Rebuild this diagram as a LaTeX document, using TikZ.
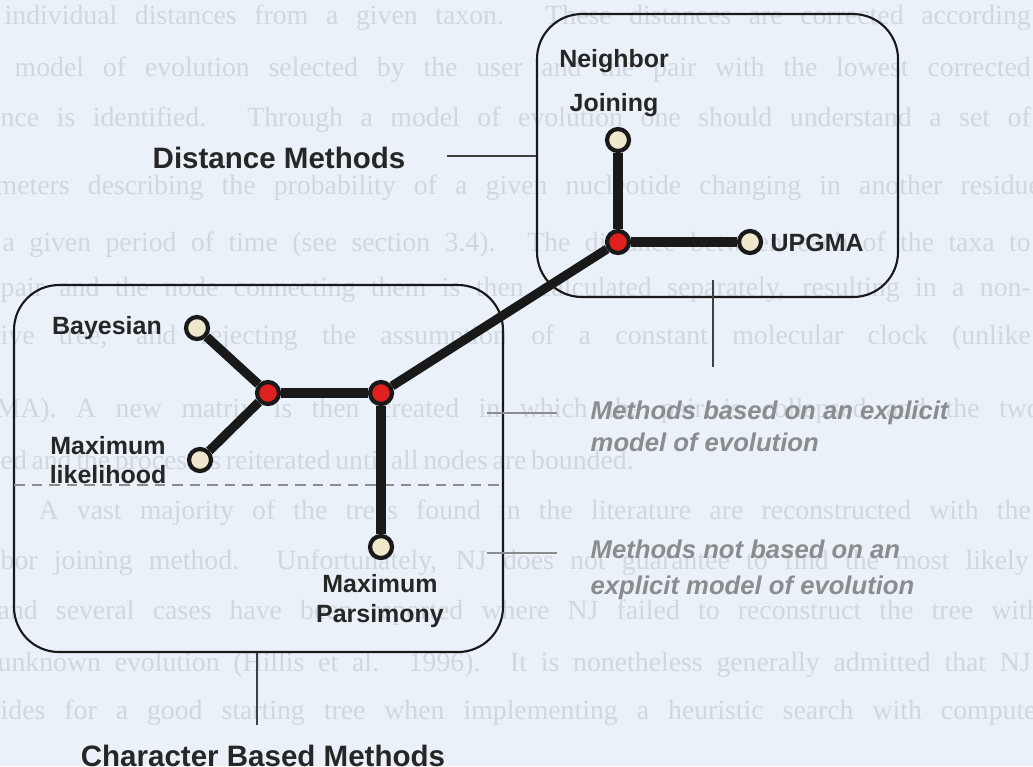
\documentclass[tikz,border=0pt]{standalone}
\usepackage{fontspec}
\setmainfont{Liberation Serif}
\setsansfont{Liberation Sans}
\definecolor{paper}{RGB}{234,241,249}
\definecolor{ghost}{RGB}{208,215,223}
\definecolor{leaf}{RGB}{240,232,204}
\definecolor{inner}{RGB}{222,32,30}
\definecolor{notegrey}{RGB}{138,140,142}
\begin{document}
\begin{tikzpicture}[x=0.1mm, y=-0.1mm,
		ghostline/.style={anchor=west, inner sep=0pt, text=ghost, font=\fontsize{7.9pt}{9pt}\selectfont},
		group/.style={draw=black!90, line width=0.6pt, rounded corners=4.5mm, inner sep=0pt},
		branch/.style={line width=2.6pt, draw=black!90},
		taxon/.style={circle, draw=black!90, line width=1.2pt, fill=leaf, minimum size=2.2mm, inner sep=0pt},
		split/.style={taxon, fill=inner},
		taxlabel/.style={font=\sffamily\bfseries\fontsize{7.1pt}{8.5pt}\selectfont, text=black!85, inner sep=0pt, align=center},
		title/.style={font=\sffamily\bfseries\fontsize{8.4pt}{10pt}\selectfont, text=black!85, inner sep=0pt},
		remark/.style={font=\sffamily\bfseries\itshape\fontsize{7.3pt}{9.1pt}\selectfont, text=notegrey, inner sep=0pt, anchor=west, align=left},
		leader/.style={draw=black!75, line width=0.4pt},
		remarklead/.style={draw=notegrey, line width=0.5pt},
		separator/.style={draw=black!45, line width=0.5pt, densely dashed}]

		\fill[paper] (0,0) rectangle (1033,766);
		\useasboundingbox (0,0) rectangle (1033,766);

		\begin{scope}
			\clip (0,0) rectangle (1033,766);
			\foreach \y/\xa/\xb/\txt [count=\i] in {
					18/4/1030/{individual distances from a given taxon. These distances are corrected according},
					70/14/1030/{model of evolution selected by the user and the pair with the lowest corrected},
					120/0/1030/{nce is identified. Through a model of evolution one should understand a set of},
					188/-5/1040/{meters describing the probability of a given nucleotide changing in another residue},
					245/2/1030/{a given period of time (see section 3.4). The distance between each of the taxa to},
					290/0/1030/{pair and the node connecting them is then calculated separately, resulting in a non-},
					338/0/1030/{ive tree, and rejecting the assumption of a constant molecular clock (unlike},
					411/-5/1040/{MA). A new matrix is then created in which the pair is collapsed and the two},
					463/0/620/{ed and the process is reiterated until all nodes are bounded.},
					513/38/1030/{A vast majority of the trees found in the literature are reconstructed with the},
					563/0/1028/{bor joining method. Unfortunately, NJ does not guarantee to find the most likely},
					613/-3/1040/{and several cases have been reported where NJ failed to reconstruct the tree with},
					665/-3/1030/{unknown evolution (Hillis et al. 1996). It is nonetheless generally admitted that NJ},
					713/0/1045/{ides for a good starting tree when implementing a heuristic search with computer}} {
				\pgfmathsetlengthmacro\linew{(\xb-\xa)*0.1mm}
				\node[ghostline] (line\i) at (\xa,\y) {\makebox[\linew][s]{\txt}};
			}
		\end{scope}

		\node[group, minimum width=36.1mm, minimum height=28.3mm] (dbox) at (717.5,155.5) {};
		\node[group, minimum width=48.9mm, minimum height=36.7mm] (cbox) at (258.5,468.5) {};

		\coordinate (sepl) at (14,485);
		\coordinate (sepr) at (503,485);
		\draw[separator] (sepl) -- (sepr);

		\node[taxon] (nj) at (618,140) {};
		\node[split] (dj) at (618,242) {};
		\node[taxon] (upgma) at (750,242) {};
		\node[split] (cl) at (268,393) {};
		\node[split] (cr) at (381,393) {};
		\node[taxon] (bay) at (197,328) {};
		\node[taxon] (ml) at (200,460) {};
		\node[taxon] (mp) at (381,547) {};

		\draw[branch] (nj) -- (dj);
		\draw[branch] (dj) -- (upgma);
		\draw[branch] (dj) -- (cr);
		\draw[branch] (cr) -- (cl);
		\draw[branch] (cl) -- (bay);
		\draw[branch] (cl) -- (ml);
		\draw[branch] (cr) -- (mp);

		\node[taxlabel] (njlab) at (614,83) {Neighbor\\[4pt]Joining};
		\node[taxlabel, anchor=west] (upglab) at (770,243) {UPGMA};
		\node[taxlabel] (baylab) at (107,328) {Bayesian};
		\node[taxlabel] (mllab) at (108,460) {Maximum\\likelihood};
		\node[taxlabel] (mplab) at (380,601) {Maximum\\Parsimony};

		\node[title] (dist) at (279,158) {Distance Methods};
		\node[title] (chars) at (263,756) {Character Based Methods};

		\coordinate (distend) at (447,156);
		\draw[leader] (distend) -- (distend -| dbox.west);
		\coordinate (dtop) at (713,280);
		\coordinate (dbot) at (713,367);
		\draw[leader] (dtop) -- (dbot);
		\coordinate (charsend) at (257,725);
		\draw[leader] (charsend |- cbox.south) -- (charsend);

		\node[remark] (expl) at (590,426) {Methods based on an explicit\\model of evolution};
		\node[remark] (noexpl) at (590,570) {Methods not based on an\\[1pt]explicit model of evolution};
		\coordinate (expla) at (487,413);
		\coordinate (explb) at (557,413);
		\draw[remarklead] (expla) -- (explb);
		\coordinate (noexpla) at (487,553);
		\coordinate (noexplb) at (557,553);
		\draw[remarklead] (noexpla) -- (noexplb);
	\end{tikzpicture}
\end{document}
